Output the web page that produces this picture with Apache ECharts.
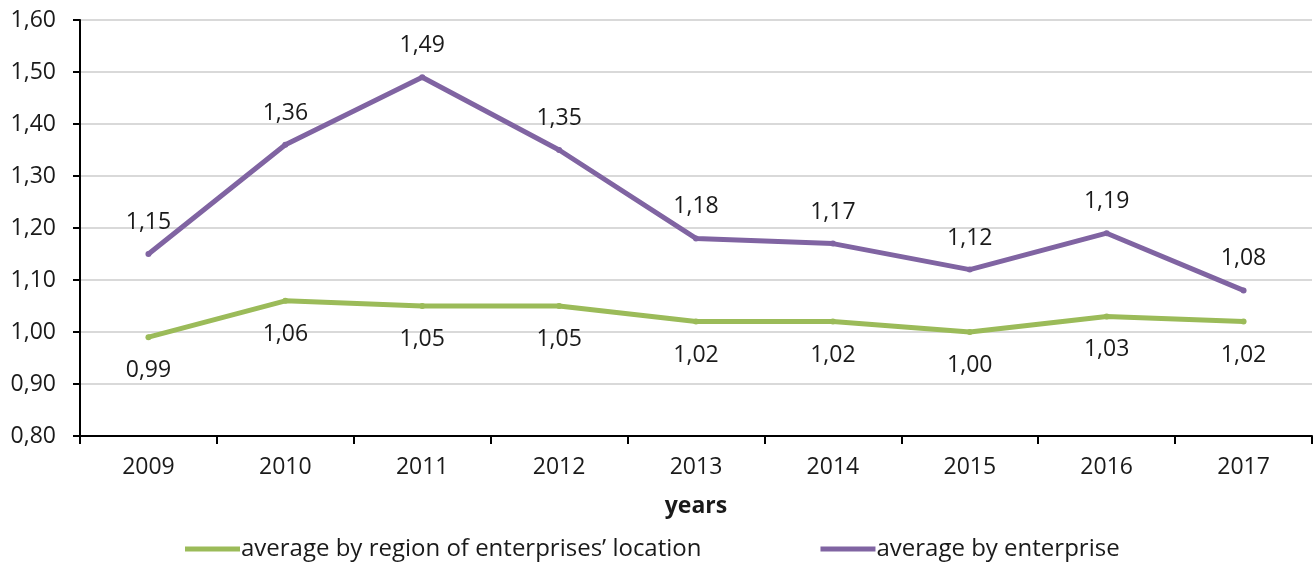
<!DOCTYPE html>
<html><head><meta charset="utf-8">
<script src="https://cdn.jsdelivr.net/npm/echarts@6/dist/echarts.min.js"></script>
<style>html,body{margin:0;padding:0;background:#fff}#c{width:1316px;height:562px}</style>
</head><body><div id="c"></div>
<script>
var years = ['2009','2010','2011','2012','2013','2014','2015','2016','2017'];
var regionAvg = [0.99,1.06,1.05,1.05,1.02,1.02,1.00,1.03,1.02];
var enterpriseAvg = [1.15,1.36,1.49,1.35,1.18,1.17,1.12,1.19,1.08];
var seriesNames = ['average by region of enterprises\u2019 location','average by enterprise'];
var xAxisName = 'years';

var fmt = function(v){ return Number(v).toFixed(2).replace('.', ','); };
var font = '"Open Sans", "Noto Sans", sans-serif';
var FS = 23;
var chart = echarts.init(document.getElementById('c'), null, {renderer:'canvas'});
chart.setOption({
  animation:false,
  textStyle:{fontFamily:font},
  grid:{left:80, right:4, top:20, bottom:126, containLabel:false},
  legend:{
    bottom:-4, left:180, itemGap:119, itemWidth:55, itemHeight:5, icon:'rect',
    textStyle:{fontSize:24, color:'#1a1a1a', fontFamily:font, padding:[0,0,0,-4]},
    data:seriesNames
  },
  xAxis:{
    type:'category', data:years, boundaryGap:true,
    name:xAxisName, nameLocation:'middle', nameGap:59,
    nameTextStyle:{fontSize:FS, fontWeight:'bold', color:'#1a1a1a'},
    axisLine:{lineStyle:{color:'#000', width:2}},
    axisTick:{show:true, length:8, lineStyle:{color:'#000', width:2}},
    axisLabel:{fontSize:FS, color:'#1a1a1a', margin:20}
  },
  yAxis:{
    type:'value', min:0.8, max:1.6, interval:0.1,
    axisLine:{show:true, lineStyle:{color:'#000', width:2}},
    axisTick:{show:true, length:7, lineStyle:{color:'#000', width:2}},
    axisLabel:{fontSize:FS, color:'#1a1a1a', margin:24, formatter:fmt},
    splitLine:{lineStyle:{color:'#d9d9d9', width:2}}
  },
  series:[
    {name:seriesNames[0], type:'line', data:regionAvg, symbol:'circle', symbolSize:6,
     lineStyle:{color:'#9BBB59', width:5}, itemStyle:{color:'#9BBB59'},
     label:{show:true, position:'bottom', distance:19, fontSize:FS, color:'#1a1a1a', formatter:function(p){return fmt(p.value);}}},
    {name:seriesNames[1], type:'line', data:enterpriseAvg, symbol:'circle', symbolSize:6,
     lineStyle:{color:'#8064A2', width:5}, itemStyle:{color:'#8064A2'},
     label:{show:true, position:'top', distance:17, fontSize:FS, color:'#1a1a1a', formatter:function(p){return fmt(p.value);}}}
  ]
});
</script></body></html>
